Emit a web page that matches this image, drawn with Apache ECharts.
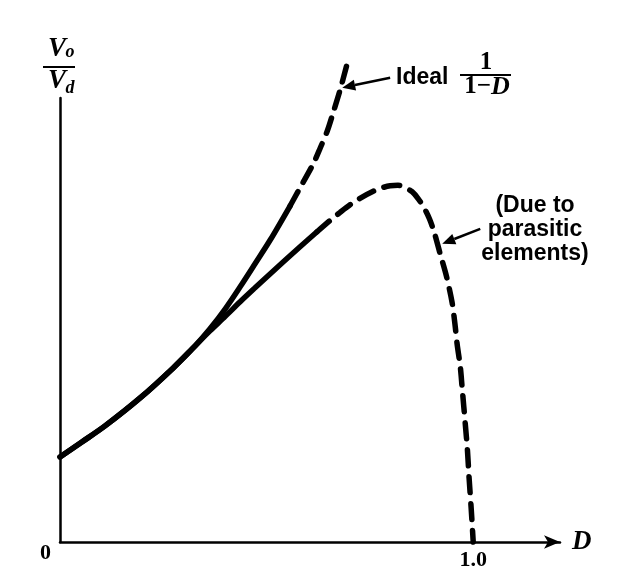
<!DOCTYPE html>
<html>
<head>
<meta charset="utf-8">
<script src="https://cdn.jsdelivr.net/npm/echarts@6/dist/echarts.min.js"></script>
<style>
html,body{margin:0;padding:0;background:#fff;}
#chart{width:619px;height:586px;}
</style>
</head>
<body>
<div id="chart"></div>
<script>
// ---- data ----
// shared start of both curves
const commonD = [0.000, 0.053, 0.109, 0.194, 0.274, 0.327];
const commonV = [1.000, 1.176, 1.365, 1.694, 2.047, 2.306];
// ideal 1/(1-D): solid part, then dashed part
const idealSolidD = [0.363, 0.400, 0.436, 0.472, 0.509, 0.557];
const idealSolidV = [2.506, 2.741, 3.000, 3.271, 3.553, 3.953];
const idealDashD = [0.557, 0.581, 0.613, 0.630, 0.647, 0.661, 0.678, 0.695];
const idealDashV = [3.953, 4.165, 4.447, 4.635, 4.835, 5.047, 5.318, 5.624];
// with parasitic elements: solid part, then dashed part
const parSolidD = [0.363, 0.400, 0.436, 0.472, 0.501, 0.542, 0.581, 0.622];
const parSolidV = [2.482, 2.653, 2.824, 2.988, 3.118, 3.300, 3.471, 3.647];
const parDashD = [0.622, 0.654, 0.678, 0.702, 0.726, 0.758, 0.780, 0.799, 0.818, 0.835, 0.852, 0.867, 0.881, 0.894, 0.906, 0.920, 0.935, 0.949, 0.956, 0.961, 0.969, 0.973, 0.981, 0.986, 0.990, 0.995, 1.000];
const parDashV = [3.647, 3.782, 3.876, 3.965, 4.041, 4.124, 4.165, 4.188, 4.194, 4.165, 4.118, 4.035, 3.929, 3.800, 3.635, 3.388, 3.129, 2.812, 2.553, 2.329, 2.047, 1.824, 1.376, 1.082, 0.753, 0.400, 0.000];
// tick labels
const xTickLabels = {1: '1.0'};
const yTickLabels = {0: '0'};

// ---- build ----
const zip = (xs, ys) => xs.map((x, i) => [x, ys[i]]);
const SERIF = '"Liberation Serif", "Times New Roman", serif';
const SANS = '"Liberation Sans", Arial, sans-serif';
const solidStyle = {color: '#000', width: 5.5, cap: 'round', join: 'round'};
const dashStyle = {color: '#000', width: 5.5, type: [16, 11], cap: 'round', join: 'round'};

const chart = echarts.init(document.getElementById('chart'), null, {renderer: 'canvas'});
const baseSeries = (data, style) => ({
  type: 'line', data: data, showSymbol: false, symbol: 'none', smooth: 0.3,
  clip: false, lineStyle: style, silent: true, animation: false
});

chart.setOption({
  backgroundColor: '#fff',
  animation: false,
  grid: {left: 60, right: 59, top: 98, bottom: 44, containLabel: false},
  xAxis: {
    type: 'value', min: 0, max: 1.21, interval: 1,
    axisLine: {show: true, lineStyle: {color: '#000', width: 2.5}, symbol: ['none', 'arrow'], symbolSize: [10, 16]},
    axisTick: {show: false}, splitLine: {show: false},
    axisLabel: {
      formatter: v => (xTickLabels[v] !== undefined ? xTickLabels[v] : ''),
      color: '#000', fontFamily: SERIF, fontWeight: 'bold', fontSize: 22, margin: 7,
      showMaxLabel: false
    },
    name: 'D', nameLocation: 'end', nameGap: 12,
    nameTextStyle: {color: '#000', fontFamily: SERIF, fontStyle: 'italic', fontWeight: 'bold', fontSize: 27, verticalAlign: 'middle'}
  },
  yAxis: {
    type: 'value', min: 0, max: 5.22, interval: 1,
    axisLine: {show: true, lineStyle: {color: '#000', width: 2.5}},
    axisTick: {show: false}, splitLine: {show: false},
    axisLabel: {
      formatter: v => (yTickLabels[v] !== undefined ? yTickLabels[v] : ''),
      color: '#000', fontFamily: SERIF, fontWeight: 'bold', fontSize: 22, margin: 9,
      verticalAlign: 'top', showMaxLabel: false
    }
  },
  series: [
    baseSeries(zip(commonD.concat(idealSolidD), commonV.concat(idealSolidV)), solidStyle),
    baseSeries(zip(idealDashD, idealDashV), dashStyle),
    baseSeries(zip(commonD.concat(parSolidD), commonV.concat(parSolidV)), solidStyle),
    baseSeries(zip(parDashD, parDashV), dashStyle)
  ]
});

// ---- annotations ----
const idealArrow = {tail: [0.799, 5.459], tip: [0.683, 5.341]};
const parArrow = {tail: [1.017, 3.682], tip: [0.925, 3.506]};
const px = p => chart.convertToPixel({gridIndex: 0}, p);

function arrowEls(a) {
  const t = px(a.tail), h = px(a.tip);
  const ang = Math.atan2(h[1] - t[1], h[0] - t[0]);
  const L = 13, W = 5.5;
  const bx = h[0] - L * Math.cos(ang), by = h[1] - L * Math.sin(ang);
  const nx = -Math.sin(ang), ny = Math.cos(ang);
  return [
    {type: 'line', shape: {x1: t[0], y1: t[1], x2: bx, y2: by}, style: {stroke: '#000', lineWidth: 2.5}},
    {type: 'polygon', shape: {points: [[h[0], h[1]], [bx + nx * W, by + ny * W], [bx - nx * W, by - ny * W]]}, style: {fill: '#000'}}
  ];
}

function txt(x, y, text, font, align, extra) {
  return {
    type: 'text', x: x, y: y,
    style: Object.assign({text: text, font: font, fill: '#000', align: align, textAlign: align, verticalAlign: 'middle', textVerticalAlign: 'middle'}, extra || {})
  };
}

const serifBI = s => 'italic bold ' + s + 'px ' + SERIF;
const elements = []
  .concat(arrowEls(idealArrow))
  .concat(arrowEls(parArrow))
  .concat([
    // y-axis title Vo / Vd
    txt(57, 49, 'V', serifBI(27), 'center'),
    txt(70, 52, 'o', serifBI(18), 'center'),
    {type: 'line', shape: {x1: 43, y1: 67, x2: 75, y2: 67}, style: {stroke: '#000', lineWidth: 2}},
    txt(57, 81, 'V', serifBI(27), 'center'),
    txt(70, 88, 'd', serifBI(18), 'center'),
    // Ideal 1/(1-D)
    txt(396, 78, 'Ideal', 'bold 23px ' + SANS, 'left'),
    txt(486, 63, '1', 'bold 25px ' + SERIF, 'center'),
    {type: 'line', shape: {x1: 460, y1: 75, x2: 511, y2: 75}, style: {stroke: '#000', lineWidth: 1.8}},
    txt(487, 87, '{a|1\u2212}{b|D}', 'bold 25px ' + SERIF, 'center', {
      rich: {a: {font: 'bold 25px ' + SERIF, fill: '#000'}, b: {font: serifBI(26), fill: '#000'}}
    }),
    // (Due to parasitic elements)
    txt(535, 230, '(Due to\nparasitic\nelements)', 'bold 23px ' + SANS, 'center', {lineHeight: 24})
  ]);

chart.setOption({graphic: {elements: elements}});
</script>
</body>
</html>
